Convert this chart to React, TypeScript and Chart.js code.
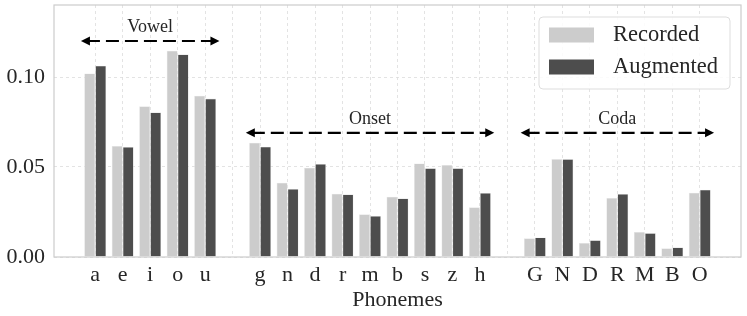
import React, { useEffect, useRef } from "react";
import { Chart, registerables } from "chart.js";
Chart.register(...registerables);

// Category slots: empty strings are spacer slots between the phoneme groups
const categories = ["", "a", "e", "i", "o", "u", "", "g", "n", "d", "r", "m", "b", "s", "z", "h", "", "G", "N", "D", "R", "M", "B", "O", ""];
const recorded = [null, 0.102, 0.0617, 0.0837, 0.1146, 0.0896, null, 0.0635, 0.0413, 0.0496, 0.0352, 0.0237, 0.0335, 0.052, 0.0511, 0.0276, null, 0.0104, 0.0544, 0.0078, 0.0328, 0.0139, 0.0048, 0.0357, null];
const augmented = [null, 0.1063, 0.0611, 0.0804, 0.1126, 0.088, null, 0.0613, 0.0378, 0.0517, 0.0348, 0.0228, 0.0326, 0.0493, 0.0493, 0.0356, null, 0.0109, 0.0544, 0.0093, 0.035, 0.0133, 0.0054, 0.0374, null];
const seriesNames = ["Recorded", "Augmented"];
const yTicks = [0, 0.05, 0.1];

// Group annotations (arrows spanning groups)
const groupLabels = ["Vowel", "Onset", "Coda"];
const groupFirst = [1, 7, 17];
const groupLast = [5, 15, 23];
const groupArrowY = [0.12, 0.069, 0.069];

const FONT = "'Liberation Serif', 'Times New Roman', serif";
const TEXT = "#262626";
const LIGHT = "#cccccc";
const DARK = "#4d4d4d";

export default function App() {
  const ref = useRef<HTMLCanvasElement | null>(null);
  useEffect(() => {
    document.body.style.margin = "0";
    const canvas = ref.current!;
    const overlay = {
      id: "overlay",
      afterDatasetsDraw(chart: any) {
        const { ctx, chartArea, scales } = chart;
        const xs = scales.x;
        const ys = scales.y;
        const step = xs.getPixelForValue(1) - xs.getPixelForValue(0);
        ctx.save();
        // frame
        ctx.strokeStyle = "#cccccc";
        ctx.lineWidth = 1.2;
        ctx.strokeRect(chartArea.left, chartArea.top, chartArea.right - chartArea.left, chartArea.bottom - chartArea.top);
        // arrows
        groupLabels.forEach((lab, i) => {
          const x0 = xs.getPixelForValue(groupFirst[i]) - step * 0.52;
          const x1 = xs.getPixelForValue(groupLast[i]) + step * 0.52;
          const y = ys.getPixelForValue(groupArrowY[i]);
          ctx.strokeStyle = "#000";
          ctx.fillStyle = "#000";
          ctx.lineWidth = 2.2;
          ctx.setLineDash([13, 6]);
          ctx.beginPath();
          ctx.moveTo(x0 + 6, y);
          ctx.lineTo(x1 - 6, y);
          ctx.stroke();
          ctx.setLineDash([]);
          const head = (xt: number, dir: number) => {
            ctx.beginPath();
            ctx.moveTo(xt, y);
            ctx.lineTo(xt + dir * 9, y - 4.5);
            ctx.lineTo(xt + dir * 9, y + 4.5);
            ctx.closePath();
            ctx.fill();
          };
          head(x0, 1);
          head(x1, -1);
          ctx.font = `18px ${FONT}`;
          ctx.fillStyle = TEXT;
          ctx.textAlign = "center";
          ctx.textBaseline = "middle";
          ctx.fillText(lab, (x0 + x1) / 2, y - 14);
        });
        // legend
        const lx = 539, ly = 17, lw = 191, lh = 72;
        ctx.fillStyle = "rgba(255,255,255,0.85)";
        ctx.strokeStyle = "#dddddd";
        ctx.lineWidth = 1;
        ctx.beginPath();
        (ctx as any).roundRect(lx, ly, lw, lh, 4);
        ctx.fill();
        ctx.stroke();
        const cols = [LIGHT, DARK];
        seriesNames.forEach((n, i) => {
          const cy = ly + 18 + i * 32;
          ctx.fillStyle = cols[i];
          ctx.fillRect(549, cy - 7.5, 45, 15);
          ctx.fillStyle = TEXT;
          ctx.font = `22.5px ${FONT}`;
          ctx.textAlign = "left";
          ctx.textBaseline = "middle";
          ctx.fillText(n, 613, cy);
        });
        ctx.restore();
      },
    };
    const chart = new Chart(canvas, {
      type: "bar",
      data: {
        labels: categories,
        datasets: [
          { label: seriesNames[0], data: recorded as any, backgroundColor: LIGHT, borderColor: "#e6e6e6", borderWidth: 0.6 },
          { label: seriesNames[1], data: augmented as any, backgroundColor: DARK, borderColor: "#e6e6e6", borderWidth: 0.6 },
        ],
      },
      options: {
        animation: false,
        responsive: false,
        layout: { padding: { top: 5, right: 6, left: 0, bottom: 0 } },
        plugins: { legend: { display: false }, tooltip: { enabled: false } },
        datasets: { bar: { categoryPercentage: 0.8, barPercentage: 1.0 } },
        scales: {
          x: {
            offset: true,
            grid: {
              offset: false,
              drawTicks: false,
              color: (c: any) => (c.index === 0 || c.index === categories.length - 1 ? "rgba(0,0,0,0)" : "#dcdcdc"),
              lineWidth: 0.8,
            } as any,
            border: { display: false, dash: [3, 3] },
            ticks: { autoSkip: false, maxRotation: 0, padding: 5, color: TEXT, font: { family: FONT, size: 22 } },
            title: { display: true, text: "Phonemes", color: TEXT, font: { family: FONT, size: 22 }, padding: { top: 0, bottom: 3 } },
            afterFit: (s: any) => { s.height = 59; s.paddingLeft = 0; s.paddingRight = 0; },
          },
          y: {
            min: 0,
            max: 0.14,
            afterBuildTicks: (s: any) => { s.ticks = yTicks.map((v) => ({ value: v })); },
            grid: { drawTicks: false, color: "#dcdcdc", lineWidth: 0.8 },
            border: { display: false, dash: [3, 3] },
            ticks: { padding: 9, color: TEXT, font: { family: FONT, size: 22 }, callback: (v: any) => Number(v).toFixed(2) },
            afterFit: (s: any) => { s.width = 54; s.paddingTop = 0; s.paddingBottom = 0; },
          },
        },
      },
      plugins: [overlay],
    } as any);
    return () => chart.destroy();
  }, []);
  return (
    <div style={{ width: 747, height: 316 }}>
      <canvas ref={ref} width={747} height={316} style={{ display: "block" }} />
    </div>
  );
}
